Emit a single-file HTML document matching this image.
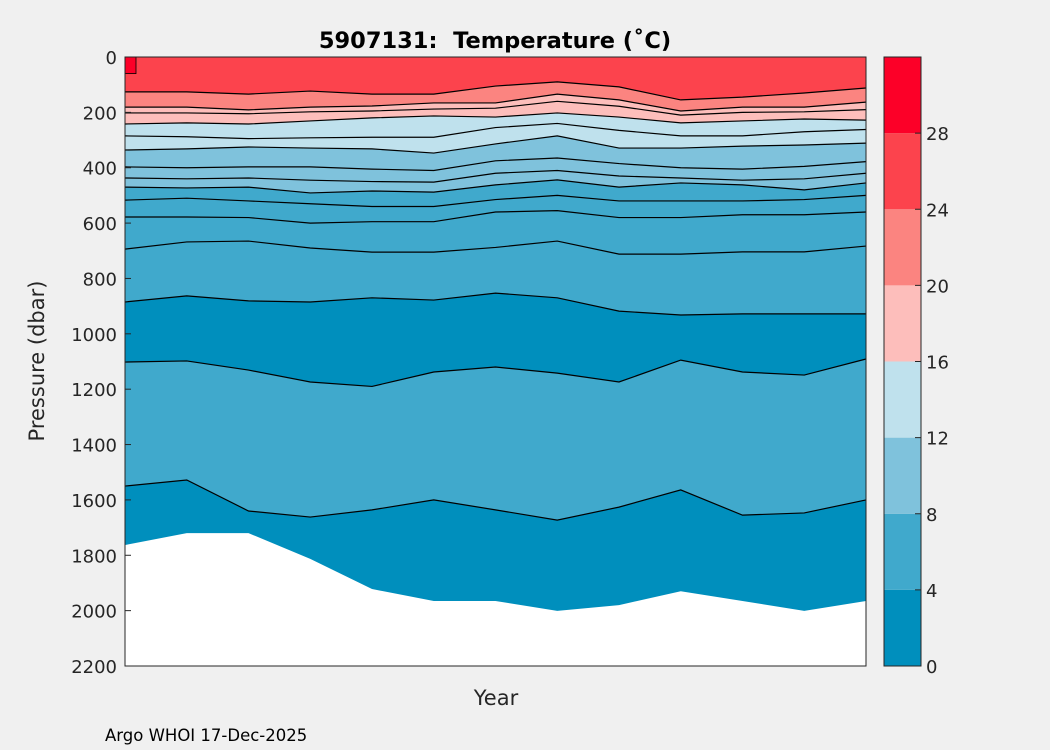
<!DOCTYPE html>
<html><head><meta charset="utf-8"><style>
body{margin:0;background:#f0f0f0;width:1050px;height:750px;overflow:hidden;font-family:"DejaVu Sans","Liberation Sans",sans-serif}
svg{position:absolute;left:0;top:0}
text{white-space:pre}
</style></head><body>
<svg id="c" width="1050" height="750"></svg>
<script>
// profile sample indices across the time axis
const profiles=[0,1,2,3,4,5,6,7,8,9,10,11,12];
// isotherm depths (dbar) per profile
const t24=[126,126,134,123,134,134,105,90,108,155,145,130,112];
const t20=[181,181,191,181,177,166,166,134,155,195,181,181,163];
const t19=[202,202,205,198,195,188,185,160,178,210,200,198,190];
const t16=[242,238,242,231,220,213,217,202,217,238,231,224,228];
const t14=[285,288,295,292,290,290,255,240,265,285,285,270,262];
const t12=[336,332,325,329,332,347,314,285,329,329,322,318,311];
const t11=[397,400,397,397,405,410,375,365,385,400,405,395,378];
const t10=[437,440,437,445,450,452,420,410,430,437,445,440,420];
const t8=[470,473,470,491,484,488,462,444,470,455,462,480,455];
const t7=[517,510,520,530,540,540,515,500,520,520,520,515,500];
const t6=[578,578,580,600,595,595,560,555,580,580,570,570,560];
const t5=[694,668,665,690,705,705,688,665,712,712,704,704,683];
const t4=[885,863,881,885,870,878,853,870,918,932,928,928,928];
const t3=[1102,1098,1131,1174,1190,1138,1120,1142,1174,1095,1138,1149,1091];
const t2=[1550,1528,1640,1662,1636,1600,1636,1673,1626,1564,1655,1647,1600];
const bottom=[1763,1720,1720,1813,1922,1965,1965,2001,1980,1930,1965,2001,1965];
const yTicks=[0,200,400,600,800,1000,1200,1400,1600,1800,2000,2200];
const cbTicks=[0,4,8,12,16,20,24,28];
const cbColors=["#008fbd","#40a9cc","#7fc2dc","#bfe1ed","#fdbebb","#fb8480","#fc434d","#fc0028"];

const NS="http://www.w3.org/2000/svg",svg=document.getElementById('c');
const L=125,R=866,T=57,B=666;
const xs=i=>L+(R-L)*i/(profiles.length-1);
const ys=d=>T+(B-T)*d/2200;
const cy=v=>B-(B-T)*v/32;
function el(t,a,p){const e=document.createElementNS(NS,t);for(const k in a)e.setAttribute(k,a[k]);(p||svg).appendChild(e);return e;}
function linePts(arr){return profiles.map((p,i)=>xs(p)+','+ys(arr[i])).join(' ');}

let r=el('rect',{x:L,y:T,width:R-L,height:B-T,fill:'#fc434d'});


const fills=[[t24,'#fb8480'],[t20,'#fdbebb'],[t16,'#bfe1ed'],[t12,'#7fc2dc'],[t8,'#40a9cc'],[t4,'#008fbd'],[t3,'#40a9cc'],[t2,'#008fbd'],[bottom,'#ffffff']];
fills.forEach(([arr,c],k)=>{
  const p=el('polygon',{points:linePts(arr)+' '+R+','+B+' '+L+','+B,fill:c});
  
  
});
const rp=el('rect',{x:L,y:ys(0),width:11,height:ys(60)-ys(0),fill:'#fc0028',stroke:'#000','stroke-width':0.8});


[t24,t20,t19,t16,t14,t12,t11,t10,t8,t7,t6,t5,t4,t3,t2].forEach((arr,k)=>{
  const p=el('polyline',{points:linePts(arr),fill:'none',stroke:'#000','stroke-width':1.2});
  
  
});
el('rect',{x:L,y:T,width:R-L,height:B-T,fill:'none',stroke:'#262626','stroke-width':1});
yTicks.forEach(v=>{
  const y=ys(v);
  el('line',{x1:L,x2:L+6,y1:y,y2:y,stroke:'#262626'});
  const t=el('text',{x:L-8,y:y+7,'text-anchor':'end','font-size':18,fill:'#262626'});
  t.textContent=v;
  
  
});
// colorbar
cbColors.forEach((c,i)=>{
  const b=el('rect',{x:884,y:cy(i*4+4),width:37,height:cy(i*4)-cy(i*4+4),fill:c});
  
  
});
el('rect',{x:884,y:T,width:37,height:B-T,fill:'none',stroke:'#262626'});
cbTicks.forEach(v=>{
  const y=cy(v);
  el('line',{x1:921,x2:915,y1:y,y2:y,stroke:'#262626'});
  const t=el('text',{x:926,y:y+7,'font-size':18,fill:'#262626'});
  t.textContent=v;
  
  
});
</script>
<svg width="1050" height="750" style="pointer-events:none">
<text x="495" y="48" text-anchor="middle" font-size="22.5" font-weight="bold" fill="#000">5907131:  Temperature (˚C)</text>
<text x="496" y="705" text-anchor="middle" font-size="21" fill="#262626">Year</text>
<text transform="translate(44,361) rotate(-90)" text-anchor="middle" font-size="21" fill="#262626">Pressure (dbar)</text>
<text x="105" y="741" font-size="16.5" fill="#000">Argo WHOI 17-Dec-2025</text>
</svg>
</body></html>
